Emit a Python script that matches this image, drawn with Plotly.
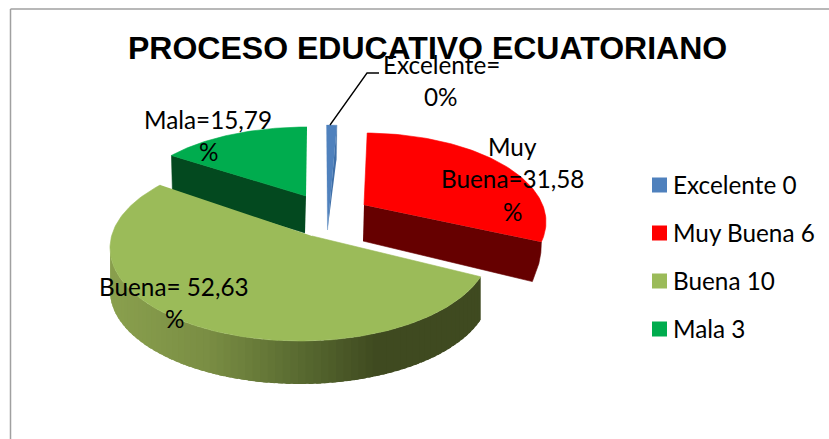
import numpy as np
import plotly.graph_objects as go

# --- data ---
categories = ["Excelente", "Muy Buena", "Buena", "Mala"]
counts = [0, 6, 10, 3]
title_text = "PROCESO EDUCATIVO ECUATORIANO"
label_lines = [["Excelente=", "0%"], ["Muy", "Buena=31,58", "%"], ["Buena= 52,63", "%"], ["Mala=15,79", "%"]]

# --- styles ---
top_colors = ["#4F81BD", "#FF0000", "#9BBB59", "#00AC4E"]
wall_colors = ["#3F6FA8", "#660000", "#3F4A20", "#03491F"]
LABEL_FONT = "Lato, Carlito, Calibri, sans-serif"
LABEL_SIZE = 24.3

# --- projection of each exploded slice (canvas is in page pixels) ---
W, H = 829, 439
geom = [
    dict(apex=(327.5, 230), c=(326.5, 199), r=(170, 74), t0=270, stretch=1.0, depth=35),
    dict(apex=(364, 205), c=(364, 222), r=(182, 89), t0=271, stretch=0.897, depth=36),
    dict(apex=(312, 236), c=(300, 248), r=(190, 93), t0=18, stretch=1.08, depth=43),
    dict(apex=(306, 196), c=(307, 201), r=(172, 74), t0=218, stretch=0.915, depth=37),
]
MIN_SWEEP = 3.5

total = sum(counts)
sweeps = [360 * v / total for v in counts]


def arc(g, a, b, n=80):
    t = np.radians(np.linspace(a, b, n))
    return g["c"][0] + g["r"][0] * np.cos(t), g["c"][1] + g["r"][1] * np.sin(t)


def poly(x, y, color, lw=0.6):
    return go.Scatter(x=list(x), y=list(y), mode="lines", fill="toself", fillcolor=color,
                      line=dict(color=color, width=lw), hoverinfo="skip", showlegend=False)


def hex_mix(stops, v):
    xs = [s[0] for s in stops]
    rgb = [np.interp(v, xs, [s[1][i] for s in stops]) for i in range(3)]
    return "rgb(%d,%d,%d)" % tuple(rgb)


spans = []
for g, s in zip(geom, sweeps):
    sw = max(s * g["stretch"], MIN_SWEEP)
    spans.append((g["t0"], g["t0"] + sw))

fig = go.Figure()

# Mala: wall then face
g, (a, b) = geom[3], spans[3]
ax, ay = g["apex"]
ex, ey = arc(g, a, a, 1)
fig.add_trace(poly([ax, ex[0], ex[0] + 1, ax - 1], [ay, ey[0], ey[0] + g["depth"], ay + g["depth"]], wall_colors[3]))
x, y = arc(g, a, b)
fig.add_trace(poly([ax, *x], [ay, *y], top_colors[3]))

# Muy Buena: wall (narrowing towards its far corner) then face
g, (a, b) = geom[1], spans[1]
ax, ay = g["apex"]
ex, ey = arc(g, b, b, 1)
d = g["depth"]
fig.add_trace(poly([ax, ex[0], ex[0] - 0.5, ex[0] - 2.5, ex[0] - 9, ax - 1],
                   [ay, ey[0], ey[0] + 0.3 * d, ey[0] + 0.6 * d, ey[0] + 1.1 * d, ay + d], wall_colors[1]))
x, y = arc(g, a, b)
fig.add_trace(poly([ax, *x], [ay, *y], top_colors[1]))

# Excelente: thin minimum sliver with its darker side
g, (a, b) = geom[0], spans[0]
ax, ay = g["apex"]
ex, ey = arc(g, b, b, 1)
fig.add_trace(poly([ax, ex[0], ex[0] - 0.5], [ay, ey[0], ey[0] + g["depth"]], wall_colors[0], lw=0.3))
lx, ly = arc(g, a, a, 1)
x, y = arc(g, a, b, 6)
fig.add_trace(poly([ax, lx[0], *x], [ay, ly[0] + g["depth"], *y], top_colors[0], lw=0.3))

# Buena: shaded wall (vertical strips, each overlapping the previous) then face
g, (a, b) = geom[2], spans[2]
d = g["depth"]
shade = [(110, (138, 160, 78)), (200, (122, 142, 68)), (300, (86, 103, 47)),
         (370, (63, 74, 32)), (490, (63, 74, 32))]
edges = np.linspace(a, 180, 71)
for t1, t2 in zip(edges[:-1], edges[1:]):
    x, y = arc(g, max(a, t1 - 1.5), t2, 5)
    fig.add_trace(poly([*x, *x[::-1]], [*y, *(y[::-1] + d)], hex_mix(shade, x[-1]), lw=0))
ax, ay = g["apex"]
x, y = arc(g, a, b, 160)
fig.add_trace(poly([ax, *x], [ay, *y], top_colors[2]))

# leader line of the Excelente label
fig.add_trace(go.Scatter(x=[330, 367, 379], y=[125, 73, 73], mode="lines",
                         line=dict(color="#000000", width=1.3), hoverinfo="skip", showlegend=False))

# legend: squares and entries
legend_y = [185, 233, 281, 329]
fig.add_trace(go.Scatter(x=[659.5] * 4, y=legend_y, mode="markers", hoverinfo="skip", showlegend=False,
                         marker=dict(symbol="square", size=15, color=top_colors, line=dict(width=0))))
anns = []
for name, v, ly in zip(categories, counts, legend_y):
    anns.append(dict(x=674, y=ly, text=f"{name} {v}", showarrow=False, xanchor="left", yanchor="middle",
                     xshift=-3, yshift=1,
                     font=dict(family=LABEL_FONT, size=LABEL_SIZE, color="#000000")))

# data labels
label_pos = [(441, 64), (512, 146), (174, 286), (208, 119)]
LINE_STEP = 32.5
for lines, (lx, ly) in zip(label_lines, label_pos):
    for i, line in enumerate(lines):
        anns.append(dict(x=lx, y=ly + i * LINE_STEP, text=line, showarrow=False, xanchor="center", yanchor="middle",
                         font=dict(family=LABEL_FONT, size=LABEL_SIZE, color="#000000")))
anns.append(dict(x=427, y=48, text=f"<b>{title_text}</b>", showarrow=False, xanchor="center", yanchor="middle",
                 font=dict(family="Liberation Sans, Arial, sans-serif", size=32, color="#000000")))

border = dict(color="#A0A0A0", width=1.5)
fig.update_layout(
    width=W, height=H, margin=dict(l=0, r=0, t=0, b=0), autosize=False,
    paper_bgcolor="#FFFFFF", plot_bgcolor="#FFFFFF",
    xaxis=dict(range=[0, W], visible=False, fixedrange=True),
    yaxis=dict(range=[H, 0], visible=False, fixedrange=True),
    annotations=anns,
    shapes=[dict(type="line", x0=10.5, x1=10.5, y0=9, y1=H, line=border),
            dict(type="line", x0=10.5, x1=W, y0=9, y1=9, line=border)],
    showlegend=False,
)
fig.write_html("out.html", config=dict(displayModeBar=False),
               post_script="document.body.style.margin='0';document.documentElement.style.overflow='hidden';")
